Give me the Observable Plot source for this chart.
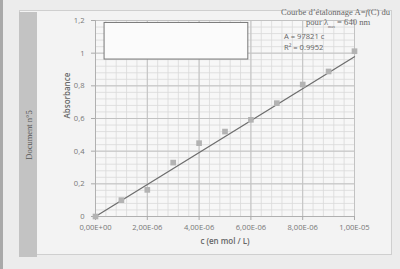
<!DOCTYPE html>
<html><head><meta charset="utf-8">
<script src="https://cdn.jsdelivr.net/npm/d3@7"></script>
<script src="https://cdn.jsdelivr.net/npm/@observablehq/plot@0.6"></script>
<style>
html,body{margin:0;padding:0;background:#ececec;}
#wrap{position:relative;width:400px;height:269px;overflow:hidden;background:#ececec;}
#frame{position:absolute;left:19px;top:10px;width:373px;height:245px;border:1px solid #cfcfcf;background:#f3f3f3;box-sizing:border-box;}
#band{position:absolute;left:19px;top:12px;width:18px;height:245px;background:#c3c3c3;}
#doc{position:absolute;left:29px;top:135px;transform:translate(-50%,-50%) rotate(-90deg);font-family:"Liberation Serif",serif;font-size:8.5px;color:#555;white-space:nowrap;}
#edge{position:absolute;left:0;top:0;width:3px;height:269px;background:#a9a9a9;}
#chart{position:absolute;left:0;top:0;}
.ann{position:absolute;white-space:nowrap;color:#666;}
.serif{font-family:"Liberation Serif",serif;font-size:8.6px;}
.sans{font-family:"Open Sans",sans-serif;font-size:7.6px;}
</style></head>
<body>
<div id="wrap">
  <div id="edge"></div>
  <div id="frame"></div>
  <div id="band"></div>
  <div id="doc">Document n°5</div>
  <div id="chart"></div>
  <div class="ann serif" style="left:281px;top:7px;">Courbe d’étalonnage A=<i>f</i>(C) du</div>
  <div class="ann serif" style="left:306px;top:17px;">pour λ<sub style="font-size:4px">max</sub> = 640 nm</div>
  <div class="ann sans" style="left:284px;top:31px;">A = 97821 c</div>
  <div class="ann sans" style="left:284px;top:42px;">R² = 0.9952</div>
</div>
<script>
const conc = [0, 1e-6, 2e-6, 3e-6, 4e-6, 5e-6, 6e-6, 7e-6, 8e-6, 9e-6, 1e-5];
const absorb = [0, 0.10, 0.163, 0.33, 0.449, 0.52, 0.592, 0.694, 0.808, 0.888, 1.012];
const slope = 97821;
const xTicks = [0, 2e-6, 4e-6, 6e-6, 8e-6, 1e-5];
const xTickLabels = ["0,00E+00", "2,00E-06", "4,00E-06", "6,00E-06", "8,00E-06", "1,00E-05"];
const yTicks = [0, 0.2, 0.4, 0.6, 0.8, 1, 1.2];
const yTickLabels = ["0", "0,2", "0,4", "0,6", "0,8", "1", "1,2"];
const xLabel = "c (en mol / L)";
const yLabel = "Absorbance";
const legendBox = [{x1: 0.35e-6, x2: 5.9e-6, y1: 0.961, y2: 1.185}];

const points = conc.map((c, i) => ({c, a: absorb[i]}));
const fit = [0, 1e-5].map(c => ({c, a: slope * c}));
const minorX = d3.range(0, 1e-5 + 1e-9, 4e-7);
const minorY = d3.range(0, 1.2 + 1e-9, 0.04);

const chart = Plot.plot({
  width: 400, height: 269,
  marginLeft: 95, marginRight: 46, marginTop: 20, marginBottom: 53,
  style: {background: "transparent", fontFamily: "Open Sans, sans-serif", fontSize: "7.6px", color: "#777"},
  x: {domain: [0, 1e-5], label: null},
  y: {domain: [0, 1.2], label: null},
  marks: [
    Plot.frame({fill: "#f7f7f7", stroke: null}),
    Plot.ruleX(minorX, {stroke: "#d9d9d9", strokeWidth: 0.8}),
    Plot.ruleY(minorY, {stroke: "#d9d9d9", strokeWidth: 0.8}),
    Plot.ruleX(xTicks, {stroke: "#c2c2c2", strokeWidth: 1}),
    Plot.ruleY(yTicks, {stroke: "#c2c2c2", strokeWidth: 1}),
    Plot.ruleY([0], {stroke: "#b0b0b0"}),
    Plot.ruleX([0], {stroke: "#b0b0b0"}),
    Plot.axisX({ticks: xTicks, tickFormat: d => xTickLabels[xTicks.indexOf(d)], tickSize: 4, tickPadding: 4, stroke: "#aaa", fill: "#777", label: null}),
    Plot.axisY({ticks: yTicks, tickFormat: d => yTickLabels[yTicks.indexOf(d)], tickSize: 4, tickPadding: 7, stroke: "#aaa", fill: "#777", label: null}),
    Plot.rect(legendBox, {x1: "x1", x2: "x2", y1: "y1", y2: "y2", fill: "#fbfbfb", stroke: "#777", strokeWidth: 1}),
    Plot.line(fit, {x: "c", y: "a", stroke: "#6e6e6e", strokeWidth: 1.3}),
    Plot.dot(points, {x: "c", y: "a", symbol: "square", r: 3.2, fill: "#b3b3b3", stroke: null}),
    Plot.text([xLabel], {frameAnchor: "bottom", dy: 27, text: d => d, fill: "#666", fontWeight: 600, fontSize: 8}),
    Plot.text([yLabel], {frameAnchor: "left", dx: -28, rotate: -90, text: d => d, fill: "#666", fontWeight: 600, fontSize: 8})
  ]
});
document.getElementById("chart").appendChild(chart);
</script>
</body></html>
